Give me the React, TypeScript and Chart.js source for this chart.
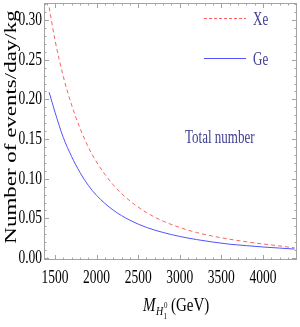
import React, { useEffect, useRef } from "react";
import { Chart, registerables } from "chart.js";

Chart.register(...registerables);

// ---- data ----
const massGeV = [1430, 1500, 1600, 1700, 1800, 1900, 2000, 2200, 2400, 2600, 2800, 3000, 3200, 3400, 3600, 3800, 4000, 4200, 4380];
const xeEvents = [0.316, 0.275, 0.229, 0.193, 0.164, 0.14, 0.121, 0.0923, 0.0721, 0.0574, 0.0465, 0.0385, 0.0322, 0.0275, 0.0237, 0.0205, 0.0177, 0.0152, 0.0128];
const geEvents = [0.209, 0.184, 0.152, 0.128, 0.108, 0.0917, 0.0789, 0.0604, 0.0477, 0.0386, 0.0322, 0.0272, 0.0233, 0.0201, 0.0174, 0.0156, 0.0139, 0.0125, 0.0113];
const xTickValues = [1500, 2000, 2500, 3000, 3500, 4000];
const yTickValues = [0, 0.05, 0.1, 0.15, 0.2, 0.25, 0.3];
const seriesNames = ["Xe", "Ge"];
const yTitle = "Number of events/day/kg";
const annotation = "Total number";

const X_MIN = 1368;
const X_MAX = 4409;
const Y_MIN = -0.0025;
const Y_MAX = 0.3216;

const SERIF = '"Liberation Serif", "DejaVu Serif", serif';
const RED = "#ff6060";
const BLUE = "#5252ff";
const NAVY = "#3d3d8f";
const FRAME = "#a3a3a3";

function sText(
  ctx: CanvasRenderingContext2D,
  text: string,
  x: number,
  y: number,
  font: string,
  color: string,
  align: CanvasTextAlign,
  baseline: CanvasTextBaseline,
  sy: number
) {
  ctx.save();
  ctx.font = font;
  ctx.fillStyle = color;
  ctx.textAlign = align;
  ctx.textBaseline = baseline;
  ctx.translate(x, y);
  ctx.scale(1, sy);
  ctx.fillText(text, 0, 0);
  ctx.restore();
}

const framePlugin = {
  id: "mmaFrame",
  afterDraw(chart: any) {
    const ctx: CanvasRenderingContext2D = chart.ctx;
    const { left, right, top, bottom } = chart.chartArea;
    const xs = chart.scales.x;
    const ys = chart.scales.y;
    ctx.save();
    // frame
    ctx.strokeStyle = FRAME;
    ctx.lineWidth = 1;
    ctx.strokeRect(Math.round(left) + 0.5, Math.round(top) + 0.5, Math.round(right - left) - 1, Math.round(bottom - top) - 1);

    // x ticks (bottom & top), minor every 100
    ctx.beginPath();
    for (let v = 1400; v <= 4400; v += 100) {
      const px = Math.round(xs.getPixelForValue(v)) + 0.5;
      const major = v % 500 === 0;
      const len = major ? 5 : 2.5;
      ctx.moveTo(px, bottom);
      ctx.lineTo(px, bottom - len);
      ctx.moveTo(px, top);
      ctx.lineTo(px, top + len);
    }
    // y ticks (left & right), minor every 0.01
    for (let i = 0; i <= 32; i++) {
      const v = i / 100;
      const py = Math.round(ys.getPixelForValue(v)) + 0.5;
      const major = i % 5 === 0;
      const len = major ? 5 : 2.5;
      ctx.moveTo(left, py);
      ctx.lineTo(left + len, py);
      ctx.moveTo(right, py);
      ctx.lineTo(right - len, py);
    }
    ctx.stroke();

    // tick labels
    const tickFont = `13.5px ${SERIF}`;
    yTickValues.forEach((v) => {
      sText(ctx, v.toFixed(2), left - 2, ys.getPixelForValue(v), tickFont, "#000", "right", "middle", 1.42);
    });
    xTickValues.forEach((v) => {
      sText(ctx, String(v), xs.getPixelForValue(v), bottom + 18, tickFont, "#000", "center", "middle", 1.42);
    });

    // y title
    ctx.save();
    ctx.translate(16, 127);
    ctx.rotate(-Math.PI / 2);
    ctx.scale(1.35, 1);
    ctx.font = `17px ${SERIF}`;
    ctx.fillStyle = "#000";
    ctx.textAlign = "center";
    ctx.textBaseline = "alphabetic";
    ctx.fillText(yTitle, 0, 0);
    ctx.restore();

    // x title: M_{H_1^0} (GeV)
    ctx.save();
    ctx.translate(143, 311);
    ctx.scale(1, 1.3);
    ctx.fillStyle = "#000";
    ctx.textBaseline = "alphabetic";
    ctx.textAlign = "left";
    let cx = 0;
    ctx.font = `italic 15px ${SERIF}`;
    ctx.fillText("M", cx, 0);
    cx += ctx.measureText("M").width + 0.5;
    ctx.font = `italic 10px ${SERIF}`;
    ctx.fillText("H", cx, 3);
    cx += ctx.measureText("H").width + 0.3;
    ctx.font = `7px ${SERIF}`;
    ctx.fillText("1", cx, 6);
    ctx.fillText("0", cx + 0.5, -2);
    cx += ctx.measureText("0").width + 4;
    ctx.font = `15px ${SERIF}`;
    ctx.fillText("(GeV)", cx, 0);
    ctx.restore();

    // legend
    const legFont = `13px ${SERIF}`;
    ctx.lineWidth = 1;
    ctx.strokeStyle = RED;
    ctx.setLineDash([3, 2]);
    ctx.beginPath();
    ctx.moveTo(204, 18.5);
    ctx.lineTo(246, 18.5);
    ctx.stroke();
    ctx.setLineDash([]);
    ctx.strokeStyle = BLUE;
    ctx.lineWidth = 1.2;
    ctx.beginPath();
    ctx.moveTo(204, 58.5);
    ctx.lineTo(246, 58.5);
    ctx.stroke();
    sText(ctx, seriesNames[0], 253, 20, legFont, NAVY, "left", "middle", 1.4);
    sText(ctx, seriesNames[1], 253, 60, legFont, NAVY, "left", "middle", 1.4);

    // annotation
    sText(ctx, annotation, 185, 138, legFont, NAVY, "left", "middle", 1.4);

    ctx.restore();
  },
};

export default function App() {
  const ref = useRef<HTMLCanvasElement | null>(null);
  useEffect(() => {
    if (!ref.current) return;
    const chart = new Chart(ref.current, {
      type: "line",
      data: {
        datasets: [
          {
            label: seriesNames[0],
            data: massGeV.map((m, i) => ({ x: m, y: xeEvents[i] })),
            borderColor: RED,
            borderWidth: 1,
            borderDash: [4, 3],
            pointRadius: 0,
            cubicInterpolationMode: "monotone",
            fill: false,
          },
          {
            label: seriesNames[1],
            data: massGeV.map((m, i) => ({ x: m, y: geEvents[i] })),
            borderColor: BLUE,
            borderWidth: 1,
            pointRadius: 0,
            cubicInterpolationMode: "monotone",
            fill: false,
          },
        ],
      },
      options: {
        animation: false,
        responsive: false,
        events: [],
        layout: { padding: { left: 44, right: 3, top: 3, bottom: 67 } },
        plugins: { legend: { display: false }, tooltip: { enabled: false } },
        scales: {
          x: { type: "linear", min: X_MIN, max: X_MAX, display: false },
          y: { type: "linear", min: Y_MIN, max: Y_MAX, display: false },
        },
      },
      plugins: [framePlugin],
    } as any);
    return () => chart.destroy();
  }, []);
  return (
    <div style={{ position: "fixed", left: 0, top: 0, width: 300, height: 327, background: "#fff" }}>
      <canvas ref={ref} width={300} height={327} style={{ width: 300, height: 327, display: "block" }} />
    </div>
  );
}
